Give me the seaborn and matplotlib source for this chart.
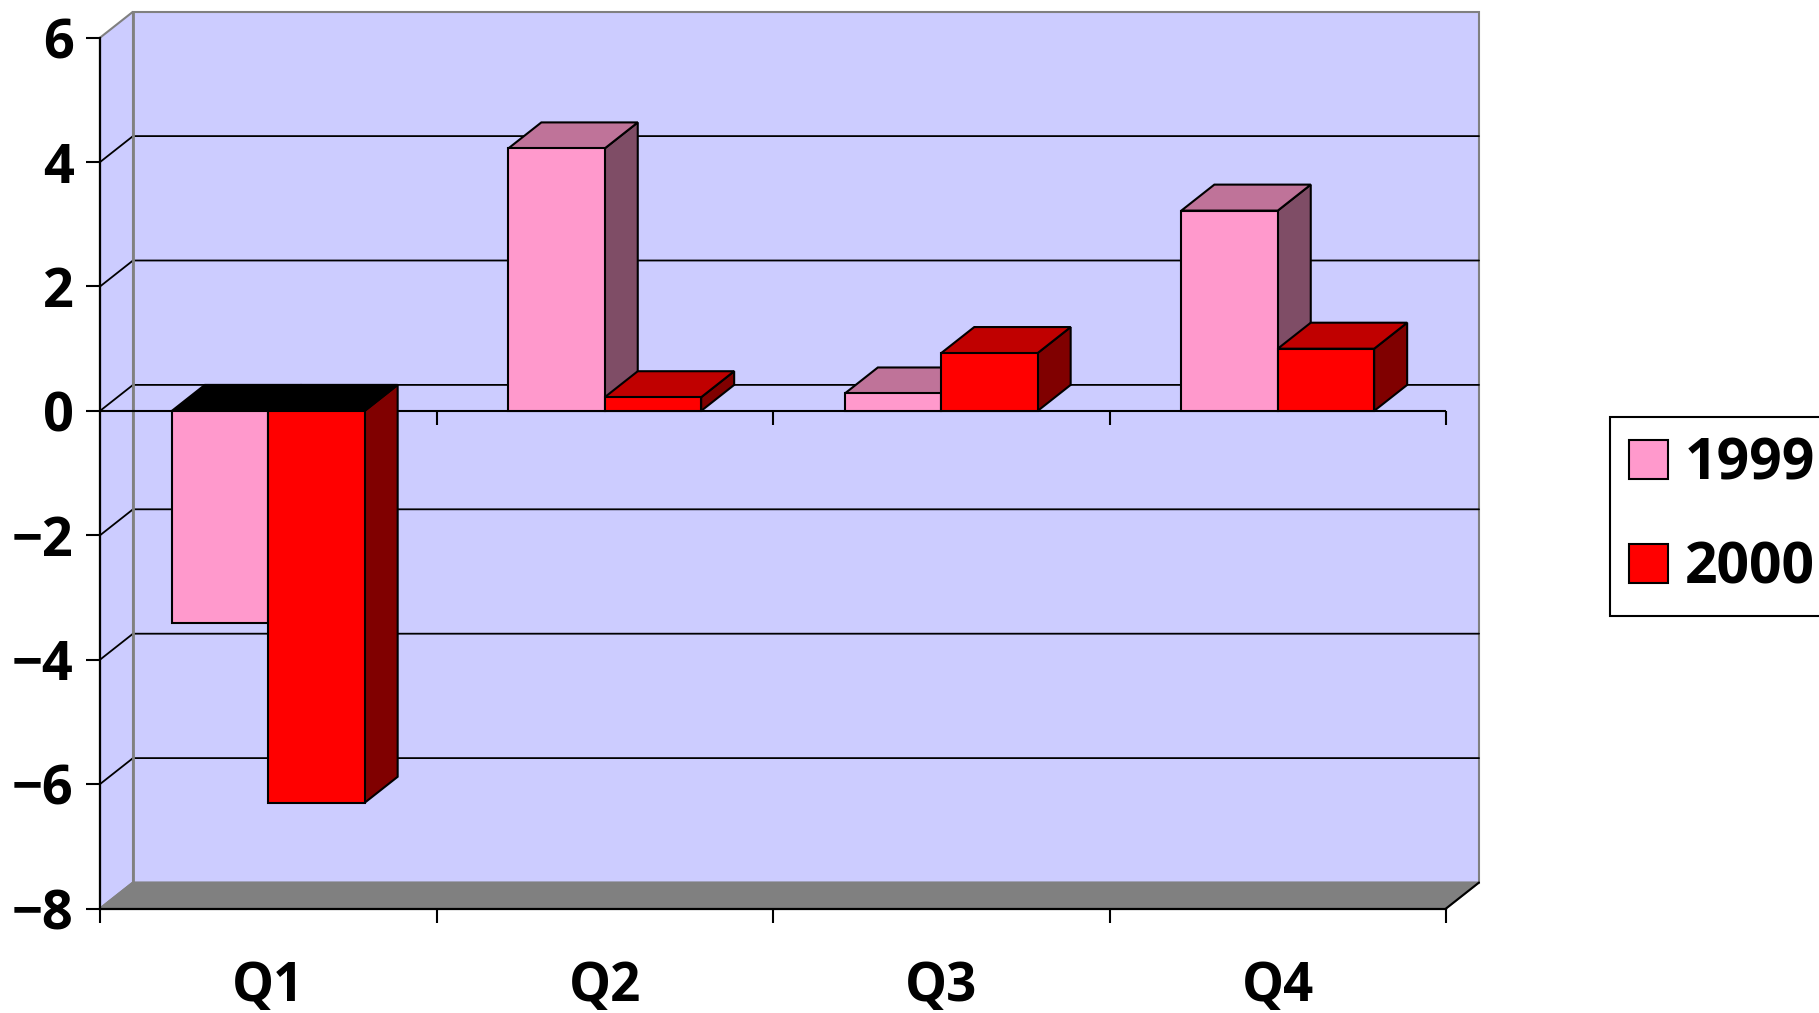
import matplotlib.pyplot as plt
from matplotlib.patches import Polygon
import seaborn as sns
import pandas as pd

quarters = ["Q1", "Q2", "Q3", "Q4"]
values_1999 = [-3.41, 4.22, 0.28, 3.22]
values_2000 = [-6.3, 0.22, 0.93, 1.0]
y_ticks = [-8, -6, -4, -2, 0, 2, 4, 6]

df = pd.DataFrame({
    "quarter": quarters * 2,
    "year": ["1999"] * 4 + ["2000"] * 4,
    "value": values_1999 + values_2000,
})

W, H = 1819, 1013
sns.set_theme(style="white")
plt.rcParams["font.family"] = ["Open Sans", "DejaVu Sans"]

fig = plt.figure(figsize=(W / 100, H / 100), dpi=100)
ax = fig.add_axes([100 / W, 1 - 908.5 / H, 1346 / W, 870.8 / H])

sns.barplot(
    data=df, x="quarter", y="value", hue="year", order=quarters,
    palette=["#FF99CC", "#FF0000"], saturation=1, width=0.573,
    edgecolor="black", linewidth=1.5, ax=ax,
)
ax.set_xlim(-0.5, 3.5)
ax.set_ylim(-8, 6)
ax.set_xlabel("")
ax.set_ylabel("")
bars = list(ax.patches)

# depth of the fake 3d box, in data units
dx = 33 / (1346 / 4)
dy = 26 / (870.8 / 14)
x0, x1 = -0.5, 3.5
y0, y1 = -8, 6
wall = "#CCCCFF"
grey = "#808080"


def face(points, color, edge, z):
    ax.add_patch(Polygon(points, closed=True, facecolor=color, edgecolor=edge,
                         linewidth=1.5, zorder=z, clip_on=False))


# -------- WALLS --------
face([(x0 + dx, y0 + dy), (x1 + dx, y0 + dy), (x1 + dx, y1 + dy), (x0 + dx, y1 + dy)], wall, grey, 0.5)
face([(x0, y0), (x0 + dx, y0 + dy), (x0 + dx, y1 + dy), (x0, y1)], wall, grey, 0.6)
face([(x0, y0), (x1, y0), (x1 + dx, y0 + dy), (x0 + dx, y0 + dy)], grey, grey, 0.7)

for t in y_ticks[1:-1]:
    ax.plot([x0, x0 + dx, x1 + dx], [t, t + dy, t + dy], color="black", lw=1.3,
            zorder=0.8, clip_on=False)
ax.plot([x1, x1 + dx], [y0, y0 + dy], color="black", lw=1.5, zorder=0.8, clip_on=False)
ax.plot([x0 + dx, x0 + dx], [y0 + dy, y1 + dy], color=grey, lw=2, zorder=0.85, clip_on=False)

# zero axis with its own ticks
edges = [x0, 0.5, 1.5, 2.5, x1]
ax.axhline(0, color="black", lw=1.5, zorder=1)
ax.vlines(edges[1:], -14 / (870.8 / 14), 0, color="black", lw=1.5, zorder=1, clip_on=False)

# -------- BARS --------
n = len(quarters)
for i, bar in enumerate(bars):
    series = i // n
    x_l, w = bar.get_x(), bar.get_width()
    h = bar.get_height()
    low, high = min(0, h), max(0, h)
    x_r = x_l + w
    if series == 0:
        top_col, side_col = "#BF7399", "#7F4D66"
    else:
        top_col, side_col = "#C00000", "#800000"
    if h < 0:
        top_col = "black"
    z = 3 + series
    face([(x_r, low), (x_r + dx, low + dy), (x_r + dx, high + dy), (x_r, high)], side_col, "black", z)
    face([(x_l, high), (x_r, high), (x_r + dx, high + dy), (x_l + dx, high + dy)], top_col, "black", z)
    bar.set_zorder(z + 0.5)

# -------- AXES --------
for side in ["top", "right"]:
    ax.spines[side].set_visible(False)
for side in ["left", "bottom"]:
    ax.spines[side].set_color("black")
    ax.spines[side].set_linewidth(1.6)
    ax.spines[side].set_zorder(2)

ax.set_yticks(y_ticks)
ax.set_yticklabels([str(t).replace("-", "\u2212") for t in y_ticks])
ax.set_xticks(edges, minor=True)
ax.tick_params(axis="y", which="major", left=True, length=10, width=1.5, color="black", pad=9,
               labelsize=39, labelcolor="black")
ax.tick_params(axis="x", which="major", bottom=False, length=0, pad=37, labelsize=38, labelcolor="black")
ax.tick_params(axis="x", which="minor", bottom=True, length=10, width=1.5, color="black")
for label in ax.get_yticklabels() + ax.get_xticklabels():
    label.set_fontweight("bold")

sns.move_legend(
    ax, "upper left", bbox_to_anchor=(1610 / W, 1 - 417 / H), bbox_transform=fig.transFigure,
    title=None, frameon=True, fancybox=False, framealpha=1, edgecolor="black",
    borderaxespad=0, borderpad=0.33, handlelength=0.68, handleheight=0.68,
    handletextpad=0.3, labelspacing=0.8, labelcolor="black",
    prop={"size": 41, "weight": "bold"},
)
ax.get_legend().get_frame().set_linewidth(1.5)
ax.get_legend().set_zorder(20)

fig.savefig("out.png", dpi=100)
